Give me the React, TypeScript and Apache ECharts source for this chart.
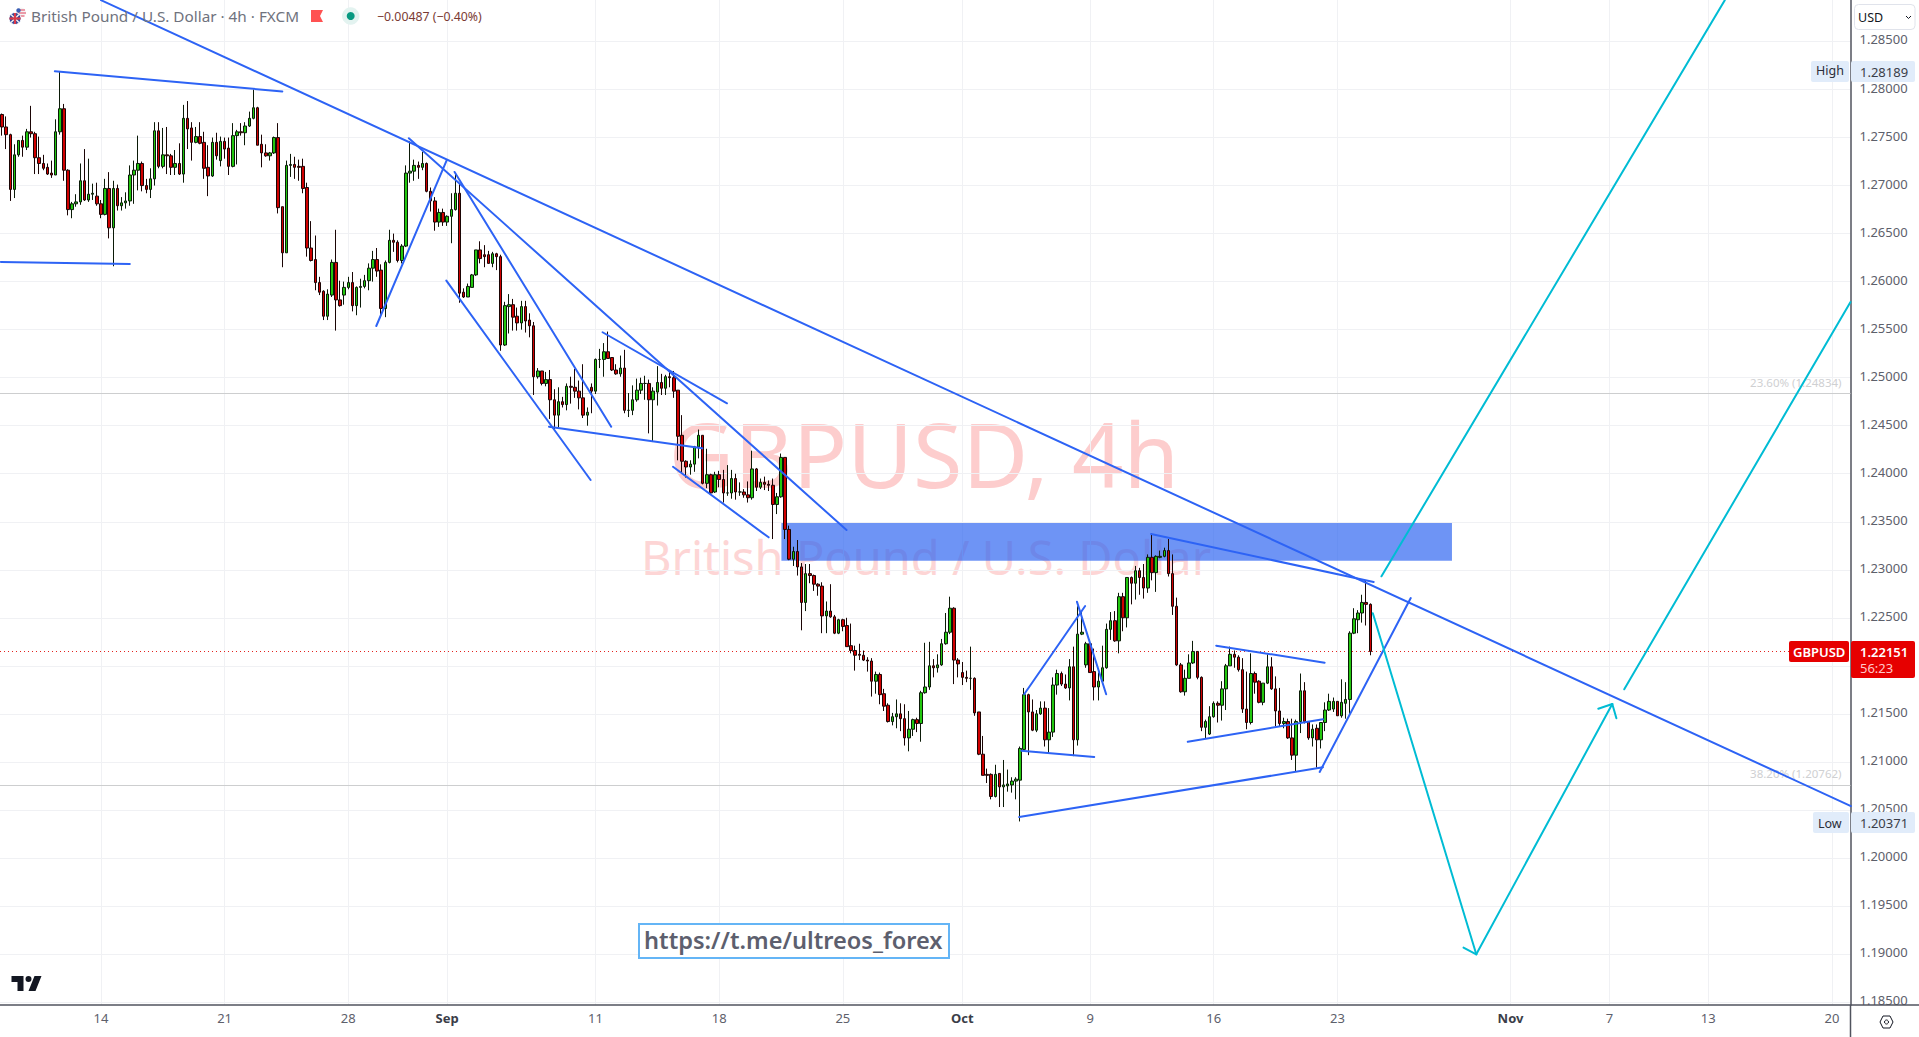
import React, { useEffect, useRef } from "react";
import * as echarts from "echarts";

// Every row is [open, close, low, high], in 1/10000 above 1.0000 (2774 = 1.2774)
const augustBars = [
[2774,2761,2752,2775],[2761,2753,2738,2772],[2753,2696,2684,2754],[2696,2732,2687,2743],[2732,2747,2730,2747],[2747,2740,2730,2752],[2740,2756,2737,2759],[2756,2754,2750,2783],[2754,2729,2712,2756],[2729,2723,2712,2751],
[2723,2718,2716,2732],[2719,2712,2711,2723],[2713,2711,2708,2726],[2711,2756,2711,2769],[2756,2780,2753,2819],[2780,2716,2705,2785],[2716,2675,2669,2717],[2675,2681,2666,2683],[2681,2683,2678,2691],[2683,2705,2680,2723],
[2705,2685,2684,2738],[2685,2691,2683,2728],[2691,2692,2685,2702],[2689,2681,2679,2703],[2681,2670,2666,2685],[2670,2697,2669,2707],[2697,2656,2645,2714],[2656,2697,2616,2705],[2697,2679,2674,2701],[2679,2682,2674,2688],
[2682,2684,2676,2693],[2684,2711,2679,2721],[2711,2716,2681,2726],[2716,2723,2695,2752],[2723,2700,2694,2725],[2700,2696,2692,2707],[2696,2707,2687,2718],[2707,2757,2700,2766],[2757,2720,2718,2766],[2720,2732,2718,2760],
[2732,2731,2712,2761],[2731,2719,2711,2733],[2719,2723,2711,2737],[2723,2712,2711,2744],[2712,2770,2703,2784],[2770,2759,2738,2788],[2760,2745,2726,2766],[2745,2751,2744,2761],[2751,2744,2743,2766],[2745,2718,2707,2756],
[2719,2710,2689,2742],[2710,2745,2709,2750],[2745,2731,2727,2755],[2726,2746,2720,2751],[2746,2738,2728,2750],[2739,2720,2711,2750],[2720,2752,2719,2765],[2752,2756,2722,2758],[2756,2755,2752,2765],[2755,2762,2742,2766],
[2762,2770,2761,2777],[2770,2781,2769,2800],[2781,2742,2742,2782],[2743,2734,2719,2753],[2734,2731,2730,2743],[2731,2734,2726,2735],[2734,2750,2733,2751],[2750,2677,2671,2765],[2678,2630,2615,2678],[2630,2721,2630,2726],
[2721,2722,2709,2733],[2722,2719,2707,2730],[2720,2719,2705,2727],[2720,2697,2692,2728],[2698,2635,2626,2703],[2635,2622,2621,2663],[2623,2599,2591,2648],[2599,2589,2586,2605],[2590,2564,2560,2591],[2564,2587,2560,2592],
[2586,2620,2584,2623],[2620,2581,2549,2654],[2581,2575,2574,2601],[2586,2594,2576,2600],[2594,2599,2592,2605],[2599,2575,2569,2610],[2575,2594,2565,2595],[2594,2595,2573,2603],[2595,2601,2593,2607],[2601,2614,2591,2619],
[2614,2623,2600,2632],[2623,2611,2605,2635],[2612,2572,2563,2618],[2572,2620,2563,2622],[2620,2643,2619,2654],[2643,2641,2631,2650],[2641,2622,2620,2643],[2622,2637,2619,2639],[2637,2713,2636,2721],[2713,2715,2703,2746],
[2715,2721,2705,2727],[2721,2719,2707,2725],[2719,2723,2716,2735],[2723,2694,2693,2724],[2694,2684,2673,2698],[2684,2662,2653,2688],[2662,2672,2657,2676],[2672,2662,2658,2676],[2662,2668,2658,2669],[2668,2675,2640,2692],
[2675,2692,2674,2713],
];
const septemberBars = [
[2692,2588,2578,2702],[2589,2584,2583,2593],[2584,2595,2584,2598],[2594,2607,2594,2608],[2607,2633,2606,2633],[2633,2624,2619,2642],[2628,2626,2615,2638],[2628,2619,2619,2632],[2619,2629,2615,2631],[2629,2626,2612,2630],
[2626,2534,2528,2628],[2534,2575,2533,2579],[2574,2576,2546,2587],[2576,2563,2549,2582],[2564,2557,2549,2573],[2557,2574,2550,2580],[2574,2559,2547,2580],[2560,2554,2542,2567],[2554,2501,2482,2558],[2501,2507,2499,2510],
[2507,2494,2492,2507],[2494,2498,2491,2506],[2498,2477,2457,2508],[2477,2461,2446,2488],[2461,2475,2448,2490],[2475,2472,2469,2480],[2472,2491,2466,2494],[2491,2490,2473,2501],[2490,2486,2479,2509],[2486,2479,2467,2497],
[2479,2461,2458,2514],[2461,2464,2450,2469],[2490,2486,2463,2494],[2486,2519,2483,2520],[2519,2519,2510,2530],[2519,2527,2501,2536],[2527,2520,2520,2548],[2521,2508,2507,2521],[2508,2504,2503,2514],[2504,2510,2501,2523],
[2510,2466,2463,2529],[2466,2466,2459,2484],[2466,2477,2461,2492],[2477,2487,2475,2499],[2487,2494,2483,2500],[2494,2494,2477,2502],[2494,2477,2442,2498],[2477,2486,2433,2490],[2485,2495,2471,2512],[2495,2489,2482,2504],
[2489,2501,2482,2503],[2501,2500,2490,2506],[2500,2486,2479,2507],[2487,2439,2414,2487],[2440,2413,2400,2461],[2413,2407,2396,2414],[2407,2410,2399,2414],[2410,2428,2402,2429],[2428,2440,2416,2446],[2440,2390,2389,2440],
[2390,2399,2385,2426],[2399,2380,2378,2400],[2381,2399,2380,2402],[2399,2394,2386,2403],[2394,2380,2370,2404],[2380,2380,2377,2409],[2380,2395,2374,2404],[2395,2381,2373,2400],[2381,2381,2377,2391],[2381,2378,2375,2384],
[2378,2375,2370,2392],[2375,2405,2373,2424],[2405,2386,2382,2406],[2386,2391,2384,2395],[2391,2389,2383,2397],[2389,2388,2382,2393],[2388,2368,2332,2395],[2368,2376,2358,2380],[2376,2417,2375,2421],[2417,2342,2332,2417],
[2342,2311,2310,2346],[2311,2319,2304,2324],[2319,2303,2294,2331],[2303,2266,2237,2307],[2266,2296,2257,2306],[2296,2294,2286,2306],[2294,2285,2278,2295],[2285,2283,2273,2286],[2283,2252,2234,2287],[2252,2257,2234,2267],
[2257,2251,2250,2285],[2251,2234,2233,2253],[2234,2248,2233,2249],[2248,2241,2236,2249],[2242,2220,2220,2250],[2221,2216,2213,2244],[2216,2211,2195,2221],[2212,2211,2206,2223],[2211,2206,2205,2216],[2206,2205,2194,2209],
[2205,2184,2168,2208],[2184,2191,2171,2194],[2191,2170,2160,2193],[2171,2158,2153,2176],[2159,2142,2141,2161],[2142,2147,2138,2151],[2147,2150,2135,2165],[2150,2145,2132,2161],[2145,2125,2117,2160],[2125,2134,2111,2153],
[2134,2144,2127,2145],[2144,2140,2131,2146],[2140,2172,2121,2174],[2172,2178,2171,2224],[2178,2200,2175,2225],[2200,2198,2188,2207],[2198,2201,2193,2212],[2201,2223,2200,2228],[2223,2235,2222,2255],[2235,2260,2233,2272],
];
const octoberBars = [
[2260,2206,2181,2261],[2206,2202,2188,2208],[2193,2188,2180,2204],[2188,2187,2183,2195],[2187,2187,2175,2220],[2187,2151,2148,2188],[2152,2108,2107,2152],[2108,2086,2086,2127],[2087,2086,2078,2093],[2087,2064,2061,2088],
[2064,2087,2063,2097],[2088,2074,2053,2088],[2074,2076,2053,2102],[2075,2077,2069,2092],[2076,2080,2068,2084],[2080,2082,2061,2084],[2081,2114,2038,2116],[2113,2170,2112,2177],[2170,2152,2107,2171],[2152,2133,2132,2165],
[2133,2150,2131,2154],[2150,2156,2149,2163],[2156,2123,2116,2163],[2123,2131,2109,2156],[2131,2180,2126,2188],[2180,2192,2170,2196],[2192,2181,2179,2194],[2181,2177,2176,2191],[2177,2199,2164,2207],[2199,2123,2106,2220],
[2123,2233,2117,2262],[2233,2235,2232,2257],[2201,2223,2198,2225],[2223,2193,2193,2224],[2194,2178,2164,2218],[2178,2184,2164,2193],[2184,2198,2182,2221],[2198,2238,2197,2244],[2238,2247,2227,2256],[2247,2226,2225,2257],
[2226,2272,2213,2276],[2272,2250,2236,2276],[2250,2292,2240,2292],[2292,2286,2264,2293],[2286,2299,2269,2304],[2299,2292,2274,2302],[2292,2281,2270,2306],[2281,2313,2276,2316],[2313,2297,2289,2338],[2297,2314,2277,2315],
[2313,2314,2312,2320],[2314,2320,2313,2323],[2320,2296,2293,2332],[2296,2262,2253,2316],[2262,2201,2200,2271],[2201,2173,2172,2203],[2173,2187,2169,2196],[2187,2203,2187,2212],[2203,2215,2202,2226],[2215,2188,2186,2215],
[2188,2136,2132,2189],[2136,2142,2124,2144],[2129,2147,2128,2158],[2147,2161,2146,2163],[2161,2159,2141,2163],[2159,2176,2143,2184],[2176,2200,2154,2202],[2200,2212,2200,2220],[2212,2209,2198,2216],[2209,2196,2194,2211],
[2196,2155,2151,2208],[2155,2141,2134,2194],[2141,2192,2139,2213],[2192,2183,2171,2194],[2184,2162,2161,2185],[2162,2182,2159,2182],[2182,2199,2181,2212],[2199,2176,2175,2209],[2176,2153,2137,2189],[2153,2140,2137,2177],
[2140,2142,2135,2146],[2142,2125,2124,2145],[2125,2107,2102,2145],[2107,2142,2090,2144],[2142,2174,2130,2192],[2174,2142,2140,2183],[2142,2125,2123,2142],[2125,2134,2116,2139],[2135,2123,2094,2139],[2123,2141,2114,2141],
[2141,2154,2132,2162],[2154,2163,2153,2171],[2155,2163,2152,2167],[2163,2148,2148,2163],[2148,2162,2146,2186],[2161,2165,2145,2183],[2165,2234,2150,2236],[2234,2249,2233,2260],[2248,2255,2234,2258],[2255,2266,2245,2274],
[2266,2264,2242,2289],[2264,2215,2211,2265],
];

// [barIndex, price, barIndex, price], price in the same units as the bars
const blueTrendlines = [
[12.8,2819,68,2798],[-0.3,2620.5,31,2618.4],[24,2893,448.6,2054],[90.8,2553.8,107.9,2726.6],[98.7,2749.3,204.9,2341.4],
[109.8,2714.2,147.8,2449],[107.8,2601,142.8,2393.5],[132.7,2449,169.9,2426.5],[145.7,2547.3,175.9,2473.3],[162.8,2407.3,186,2333.8],
[248,2170.4,262.8,2262.3],[260.8,2266.8,267.9,2170.4],[247.3,2111.7,265,2105.1],[246.8,2042.6,320.5,2094.4],[319.7,2089.5,341.8,2270.6],
[278.8,2337.3,332.8,2287.3],[294.6,2221,320.9,2203.3],[287.7,2121,320.5,2144.4],
];
const tealTrendlines = [
[334.7,2293.2,418,2893],[332.6,2254.7,357.7,1899.7],[354.6,1906.6,357.7,1899.7],[357.7,1899.7,390.7,2160.3],
[387.3,2155.4,390.7,2160.3],[390.7,2160.3,391.7,2145.4],[393.6,2175.6,448.5,2578.8],
];
const resistanceZone = { fromBar: 189.1, toBar: 351.8, top: 2348.7, bottom: 2309.5 };

const priceGridLevels = [1.185,1.19,1.195,1.2,1.205,1.21,1.215,1.22,1.225,1.23,1.235,1.24,1.245,1.25,1.255,1.26,1.265,1.27,1.275,1.28,1.285];
// 1.22000 lies wholly under the last-price tag in the picture, so it has no label
const priceLabelLevels = priceGridLevels.filter((p) => p !== 1.22);
const dateTicks: [number, string][] = [[24,"14"],[54,"21"],[84,"28"],[108,"Sep"],[144,"11"],[174,"18"],[204,"25"],[233,"Oct"],[264,"9"],[294,"16"],[324,"23"],[366,"Nov"],[390,"7"],[414,"13"],[444,"20"]];
const monthTicks = ["Sep","Oct","Nov"];
const fibLevels = [{ price: 1.24834, label: "23.60% (1.24834)" }, { price: 1.20762, label: "38.20% (1.20762)" }];
const lastPrice = 1.22151;
const TOTAL_SLOTS = 449;
const FONT = '"Noto Sans", sans-serif';
const BLUE = "#2d63f5";
const TEAL = "#00bcd4";

const toPrice = (v: number) => 1 + v / 10000;

function segmentSeries(rows: number[][], color: string) {
  return rows.map((r) => ({
    type: "line", xAxisIndex: 1, yAxisIndex: 0, z: 4, silent: true, symbol: "none", clip: true,
    lineStyle: { color, width: 2, cap: "round" },
    data: [[r[0], toPrice(r[1])], [r[2], toPrice(r[3])]],
  }));
}

function box(x: number, y: number, w: number, h: number, fill: string, r = 2) {
  return { type: "rect", z: 100, shape: { x, y, width: w, height: h, r }, style: { fill } };
}
function label(x: number, y: number, text: string, fill: string, size = 13, extra: any = {}) {
  return { type: "text", z: 101, x, y, style: { text, fill, font: `${extra.weight || 400} ${size}px ${FONT}`, textVerticalAlign: "middle", textAlign: extra.align || "left" } };
}

function overlays() {
  const stroke = (shape: any, color: string, lineWidth: number) => ({ type: "line", z: 102, shape, style: { stroke: color, lineWidth } });
  return [
    { type: "text", z: 0, x: 924, y: 452.5, style: { text: "GBPUSD, 4h", fill: "#fdcdcd", font: `400 90px ${FONT}`, textAlign: "center", textVerticalAlign: "middle" } },
    { type: "text", z: 0, x: 926, y: 556.5, style: { text: "British Pound / U.S. Dollar", fill: "#fdd5d5", font: `400 47px ${FONT}`, textAlign: "center", textVerticalAlign: "middle" } },
    // header
    { type: "circle", z: 100, shape: { cx: 21, cy: 12.5, r: 5 }, style: { fill: "#f4f4f4" } },
    stroke({ x1: 17, y1: 10, x2: 25, y2: 10 }, "#e0405a", 1), stroke({ x1: 16.5, y1: 13, x2: 26, y2: 13 }, "#e0405a", 1), stroke({ x1: 17.5, y1: 16, x2: 24.5, y2: 16 }, "#e0405a", 1),
    { type: "circle", z: 103, shape: { cx: 18.5, cy: 10.5, r: 2.2 }, style: { fill: "#3b5fb5" } },
    { type: "circle", z: 104, shape: { cx: 15, cy: 18.5, r: 6 }, style: { fill: "#33489b", stroke: "#fff", lineWidth: 1 } },
    { type: "line", z: 105, shape: { x1: 11, y1: 14.5, x2: 19, y2: 22.5 }, style: { stroke: "#f5f5f5", lineWidth: 1.4 } },
    { type: "line", z: 105, shape: { x1: 19, y1: 14.5, x2: 11, y2: 22.5 }, style: { stroke: "#f5f5f5", lineWidth: 1.4 } },
    { type: "line", z: 106, shape: { x1: 9.5, y1: 18.5, x2: 20.5, y2: 18.5 }, style: { stroke: "#d83a4a", lineWidth: 2.2 } },
    { type: "line", z: 106, shape: { x1: 15, y1: 13, x2: 15, y2: 24 }, style: { stroke: "#d83a4a", lineWidth: 2.2 } },
    label(31, 16, "British Pound / U.S. Dollar · 4h · FXCM", "#6f727d", 15.3),
    { type: "polygon", z: 100, shape: { points: [[311, 10], [323, 10], [320, 16], [323, 22], [311, 22]] }, style: { fill: "#ff5252" } },
    { type: "circle", z: 100, shape: { cx: 350.7, cy: 16, r: 8.7 }, style: { fill: "#e3f3f0" } },
    { type: "circle", z: 101, shape: { cx: 350.7, cy: 16, r: 4 }, style: { fill: "#089981" } },
    label(377, 16, "−0.00487 (−0.40%)", "#7a3a33", 12.3),
    // price scale furniture
    box(1851, 1006, 68, 31, "#ffffff", 0),
    stroke({ x1: 1850.5, y1: 1005, x2: 1850.5, y2: 1037 }, "#50535e", 1.5),
    stroke({ x1: 1850.5, y1: 1005, x2: 1919, y2: 1005 }, "#50535e", 1.5),
    { type: "polygon", z: 102, shape: { points: [[1880, 1022], [1883, 1016], [1890, 1016], [1893, 1022], [1890, 1028], [1883, 1028]] }, style: { fill: "none", stroke: "#131722", lineWidth: 1 } },
    { type: "circle", z: 102, shape: { cx: 1886.5, cy: 1022, r: 2 }, style: { fill: "none", stroke: "#131722", lineWidth: 1 } },
    { type: "rect", z: 100, shape: { x: 1854.5, y: 4.5, width: 60.5, height: 25, r: 4 }, style: { fill: "#fff", stroke: "#e0e3eb", lineWidth: 1 } },
    label(1858, 17, "USD", "#131722", 12.5),
    { type: "polyline", z: 101, shape: { points: [[1906, 16], [1908.5, 18.5], [1911, 16]] }, style: { fill: "none", stroke: "#131722", lineWidth: 1 } },
    // High
    box(1811, 61, 38, 21, "#e1ecfa"), label(1816, 70.5, "High", "#2a2e39", 12.5),
    box(1851, 61, 64, 21, "#e1ecfa"), label(1860, 72, "1.28189", "#3a3d48", 13),
    // Low
    box(1813, 812, 36, 21, "#e1ecfa"), label(1818, 823, "Low", "#2a2e39", 12.5),
    box(1851, 812, 64, 21, "#e1ecfa"), label(1860, 823, "1.20371", "#3a3d48", 13),
    // Last price
    box(1789, 641, 60, 21, "#e60000"), label(1793, 652, "GBPUSD", "#ffffff", 13, { weight: 600 }),
    box(1851, 641, 64, 37, "#e60000"), label(1860, 652, "1.22151", "#ffffff", 13, { weight: 600 }), label(1860, 668, "56:23", "#ffc9c9", 13),
    // link box
    { type: "rect", z: 100, shape: { x: 639, y: 924, width: 310, height: 34 }, style: { fill: "#ffffff", stroke: "#64b5f6", lineWidth: 2 } },
    label(644, 940, "https://t.me/ultreos_forex", "#5d5f6e", 23.6, { weight: 600 }),
    // logo
    { type: "tvLogo", z: 100, x: 9.5, y: 970, style: { fill: "#131722" } },
  ];
}

export default function App() {
  const ref = useRef<HTMLDivElement>(null);
  useEffect(() => {
    document.body.style.margin = "0";
    document.body.style.overflow = "hidden";
    echarts.graphic.registerShape("tvLogo", echarts.graphic.extendPath("M14 6H2v6h6v9h6V6z M26 21h-7l6-15h7l-6 15z M22 9a3 3 0 1 0-6 0a3 3 0 1 0 6 0z", {}));
    const chart = echarts.init(ref.current!, undefined, { renderer: "svg" });
    const bars = [...augustBars, ...septemberBars, ...octoberBars].map((r) => r.map(toPrice));
    const slots = Array.from({ length: TOTAL_SLOTS }, (_, i) => String(i));
    const dateMap = new Map(dateTicks);
    chart.setOption({
      animation: false,
      backgroundColor: "#ffffff",
      grid: { left: -0.76, top: 0, right: 68.5, bottom: 32, containLabel: false },
      xAxis: [
        { type: "category", data: slots, show: false, boundaryGap: true },
        {
          type: "value", min: -0.5, max: TOTAL_SLOTS - 0.5, position: "bottom",
          axisLine: { show: true, onZero: false, lineStyle: { color: "#50535e", width: 1.5 } },
          axisTick: { show: false, customValues: dateTicks.map((d) => d[0]) },
          splitLine: { show: true, lineStyle: { color: "#f0f1f4", width: 1 } },
          axisLabel: {
            customValues: dateTicks.map((d) => d[0]), margin: 6.5, color: "#5d606b", fontFamily: FONT, fontSize: 13,
            formatter: (v: number) => { const t = dateMap.get(v) || ""; return monthTicks.includes(t) ? `{m|${t}}` : t; },
            rich: { m: { fontWeight: 700, color: "#3a3d48", fontFamily: FONT, fontSize: 13 } },
          },
        },
      ],
      yAxis: {
        type: "value", position: "right", min: 1.18469, max: 1.28932, scale: true,
        axisLine: { show: true, onZero: false, lineStyle: { color: "#50535e", width: 1.5 } },
        axisTick: { show: false, customValues: priceGridLevels },
        splitLine: { show: true, lineStyle: { color: "#f0f1f4", width: 1 } },
        axisLabel: {
          customValues: priceLabelLevels, margin: 9,
          formatter: (v: number) => `{p|${v.toFixed(5)}}`,
          rich: { p: { color: "#5d606b", fontFamily: FONT, fontSize: 13, padding: [0, 0, 4, 0] } },
        },
      },
      graphic: overlays(),
      series: [
        {
          type: "line", xAxisIndex: 1, yAxisIndex: 0, data: [], symbol: "none", silent: true,
          markArea: {
            silent: true, z: 1, itemStyle: { color: "rgba(41,98,240,0.68)" },
            data: [[{ coord: [resistanceZone.fromBar, toPrice(resistanceZone.top)] }, { coord: [resistanceZone.toBar, toPrice(resistanceZone.bottom)] }]],
          },
        },
        {
          type: "candlestick", xAxisIndex: 0, yAxisIndex: 0, z: 2, barWidth: 3, silent: true, data: bars,
          itemStyle: { color: "#22c70f", color0: "#d00000", borderColor: "#0b1a08", borderColor0: "#1a0505", borderWidth: 1 },
          markLine: {
            silent: true, symbol: "none", z: 1, precision: 5,
            data: [
              ...fibLevels.map((f) => ({
                yAxis: f.price, lineStyle: { color: "#cdcecf", width: 1, type: "solid" },
                label: { show: true, formatter: f.label, position: "insideEndTop", color: "#cfd0d2", fontFamily: FONT, fontSize: 11.5, distance: 3, offset: [-6, -2] },
              })),
              { yAxis: lastPrice, lineStyle: { color: "#e3231f", width: 1, type: [1, 3] }, label: { show: false } },
            ],
          },
        },
        ...segmentSeries(blueTrendlines, BLUE),
        ...segmentSeries(tealTrendlines, TEAL),
      ],
    });
    return () => chart.dispose();
  }, []);
  return <div ref={ref} style={{ position: "fixed", left: 0, top: 0, width: 1919, height: 1037, background: "#fff" }} />;
}
